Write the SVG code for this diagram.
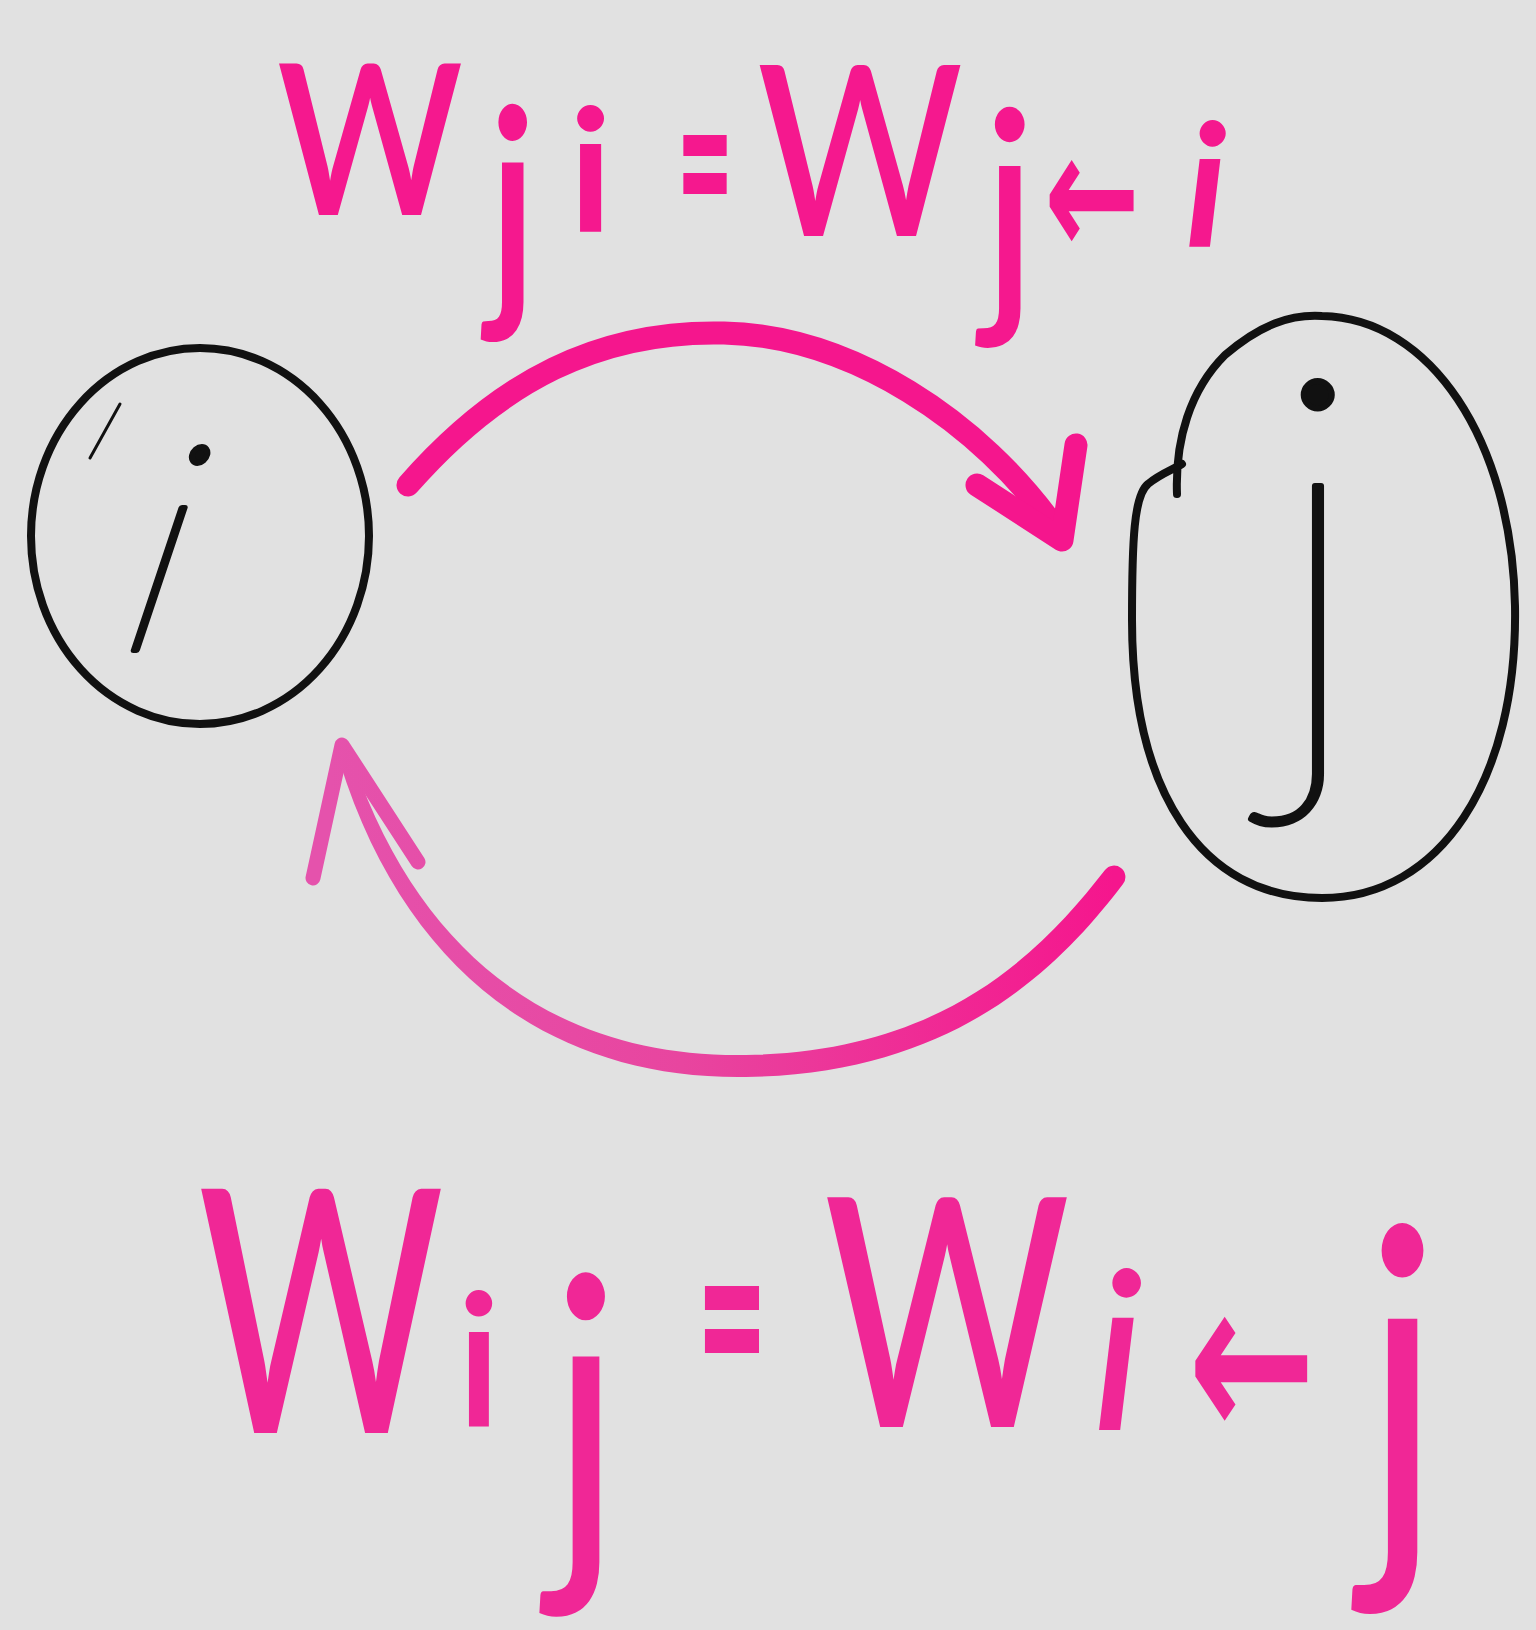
<svg xmlns="http://www.w3.org/2000/svg" width="1536" height="1630" viewBox="0 0 1536 1630">
<defs>
<style>
.bg{fill:#e1e1e1}
.node{fill:none;stroke:#111;stroke-width:8;stroke-linecap:round;stroke-linejoin:round}
.nlabel{fill:#111;stroke:#111;stroke-width:6;stroke-linejoin:round;font-family:Lato,"DejaVu Sans",sans-serif;font-weight:100}
.edge{fill:none;stroke-linecap:round;stroke-linejoin:round}
.top{stroke:#f5168d;stroke-width:23}
.bot{stroke:url(#gBot);stroke-width:15}
.lab{fill:#f5188e;font-family:Lato,"DejaVu Sans",sans-serif}
.lab2{fill:#f02796;font-family:Lato,"DejaVu Sans",sans-serif}
.arr{font-family:"DejaVu Sans",sans-serif;font-weight:bold}
</style>
<linearGradient id="gBot" gradientUnits="userSpaceOnUse" x1="330" y1="0" x2="1114" y2="0">
<stop offset="0" stop-color="#e552ac"/>
<stop offset="0.45" stop-color="#e8459f"/>
<stop offset="1" stop-color="#f5168d"/>
</linearGradient>
</defs>
<rect class="bg" x="0" y="0" width="1536" height="1630"/>

<g id="node-i">
<ellipse class="node" cx="200" cy="536" rx="169" ry="188"/>
<path class="node" d="M90,458 L120,404" style="stroke-width:3"/>
<text class="nlabel" transform="translate(146,650) skewX(-12)" x="0" y="0" font-size="290" font-style="italic" text-anchor="middle">i</text>
</g>

<g id="node-j">
<path class="node" d="M1177,494 C1175,440 1190,390 1225,355 C1260,325 1290,314 1322,316 C1430,318 1512,440 1515,606 C1518,780 1440,898 1322,898 C1200,898 1132,790 1132,620 C1132,540 1134,495 1148,484 C1160,474 1172,470 1182,464"/>
<text class="nlabel" x="1318" y="731" font-size="500" text-anchor="middle">j</text>
</g>

<g id="connectors">
<g id="edge-i-to-j">
<path class="edge top" d="M408,485 C500,380 600,330 724,333 C850,336 980,420 1058,532"/>
<path class="edge top" d="M1076,445 L1062,540 L977,485"/>
</g>
<g id="edge-j-to-i">
<path d="M1123,884 C1059,968 955,1074 746,1077 C555,1080 402,975 336,750 L348,746 C418,965 565,1058 746,1055 C945,1052 1041,952 1105,870 A11.4,11.4 0 0 1 1123,884 Z" fill="url(#gBot)"/>
<path class="edge bot" d="M313,878 L342,745 L418,862"/>
</g>
</g>

<g id="label-top">
<text class="lab" x="277" y="215" font-size="210" font-weight="600" textLength="186" lengthAdjust="spacingAndGlyphs">W</text>
<text class="lab" transform="translate(488,295) scale(1,1.3)" x="0" y="0" font-size="200" font-weight="600">j</text>
<text class="lab" x="569" y="232" font-size="170" font-weight="700">i</text>
<text class="lab" x="677" y="235" font-size="210" font-weight="900" textLength="56" lengthAdjust="spacingAndGlyphs">=</text>
<text class="lab" x="757" y="236" font-size="238" font-weight="500" textLength="206" lengthAdjust="spacingAndGlyphs">W</text>
<text class="lab" transform="translate(983,300) scale(1,1.2)" x="0" y="0" font-size="220" font-weight="500">j</text>
<text class="lab arr" x="1044" y="257" font-size="180" textLength="96" lengthAdjust="spacingAndGlyphs">←</text>
<text class="lab" x="1185" y="247" font-size="170" font-weight="700" font-style="italic">i</text>
</g>

<g id="label-bottom">
<text class="lab2" x="198" y="1433" font-size="340" font-weight="500" textLength="246" lengthAdjust="spacingAndGlyphs">W</text>
<text class="lab2" x="456" y="1427" font-size="185" font-weight="600">i</text>
<text class="lab2" transform="translate(550,1548) scale(1,1.26)" x="0" y="0" font-size="300" font-weight="400">j</text>
<text class="lab2" x="697" y="1400" font-size="238" font-weight="900" textLength="70" lengthAdjust="spacingAndGlyphs">=</text>
<text class="lab2" x="824" y="1427" font-size="320" font-weight="500" textLength="246" lengthAdjust="spacingAndGlyphs">W</text>
<text class="lab2" x="1092" y="1430" font-size="220" font-weight="500" font-style="italic">i</text>
<text class="lab2 arr" x="1188" y="1441" font-size="230" textLength="128" lengthAdjust="spacingAndGlyphs">←</text>
<text class="lab2" transform="translate(1363,1536) scale(1,1.3)" x="0" y="0" font-size="330" font-weight="400">j</text>
</g>
</svg>
